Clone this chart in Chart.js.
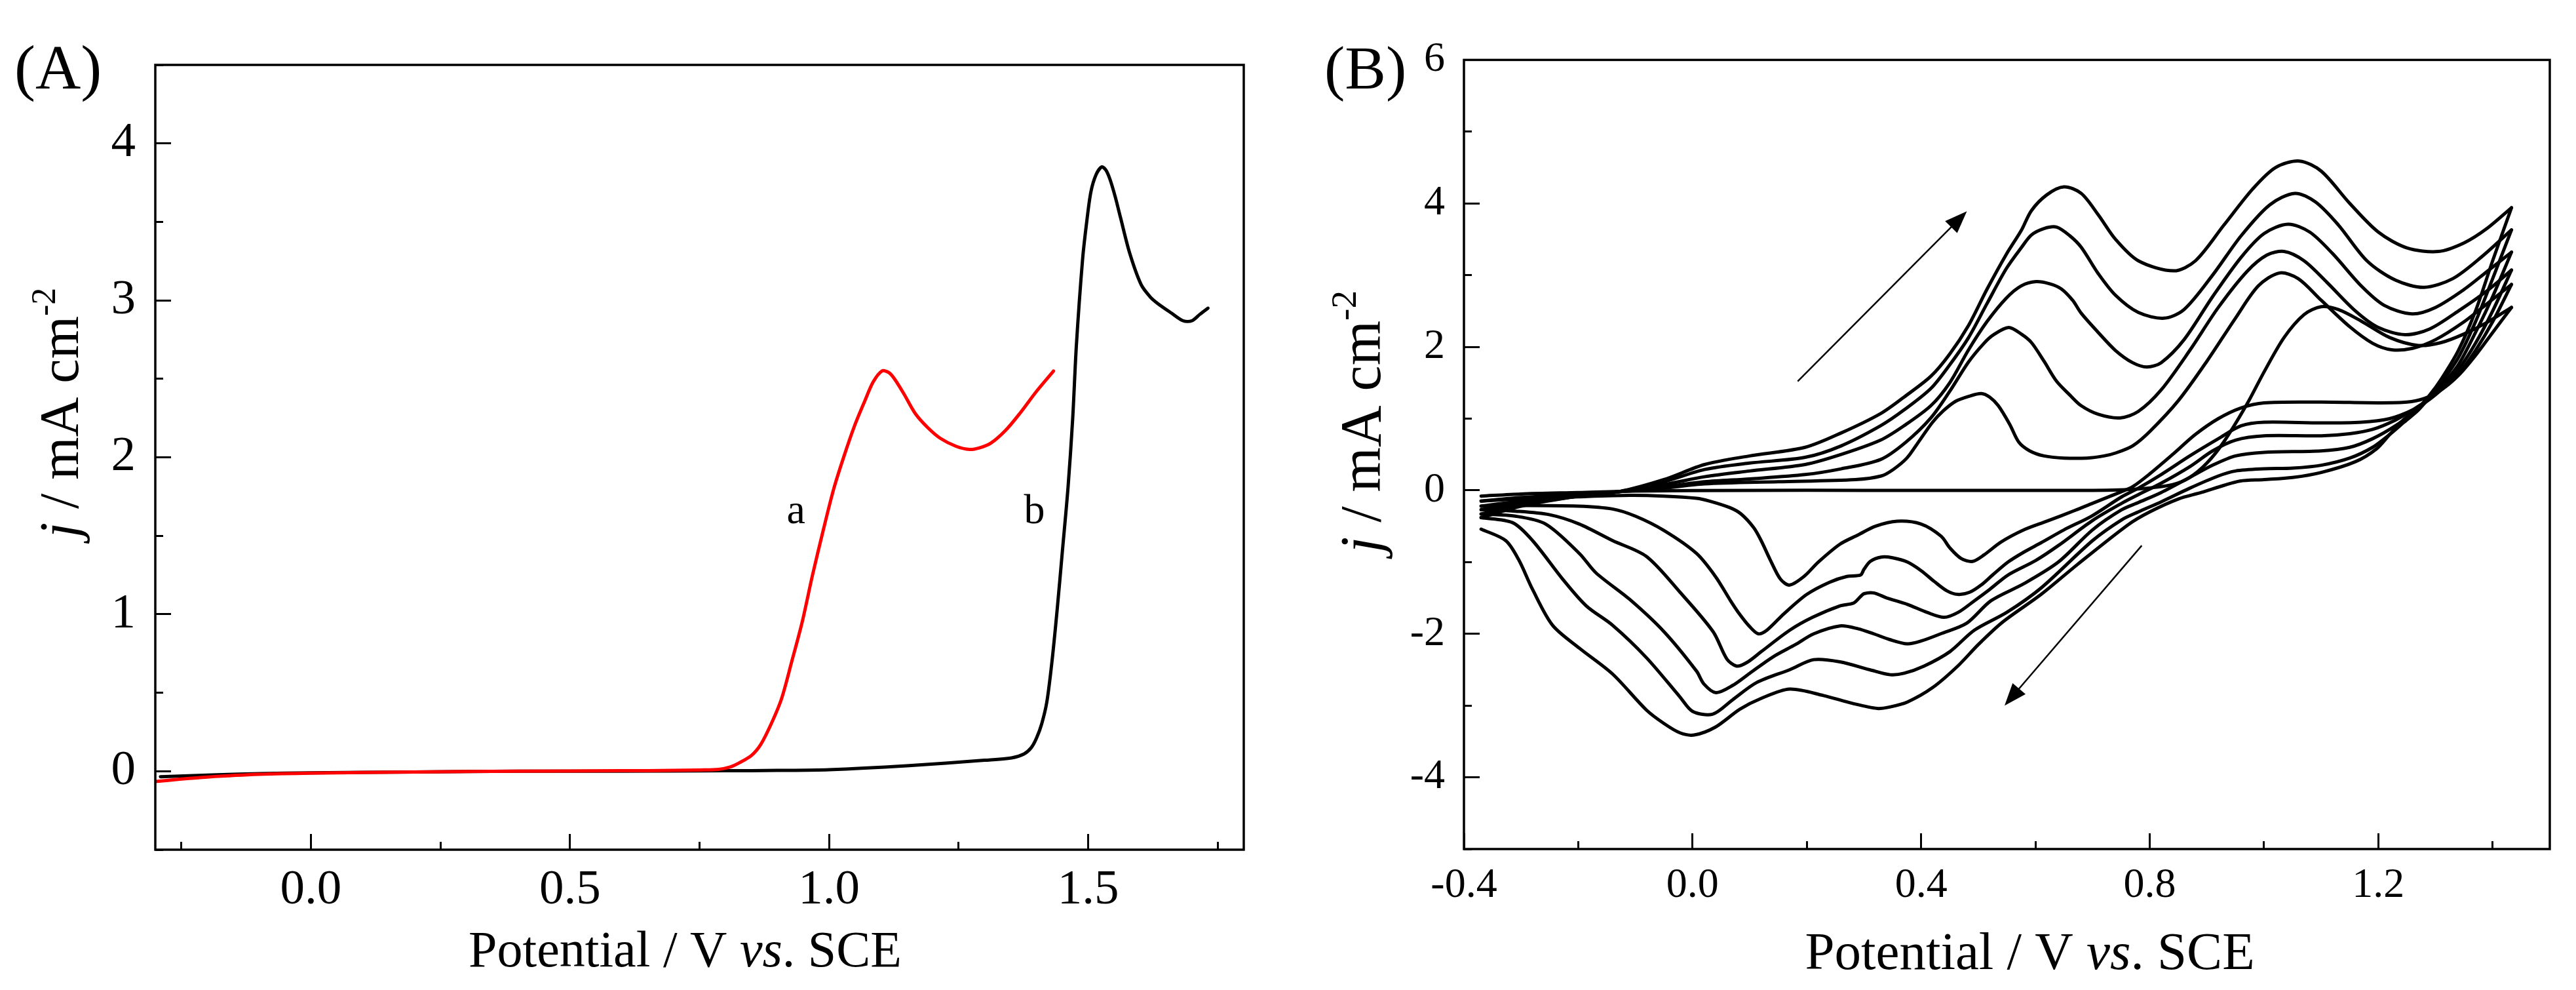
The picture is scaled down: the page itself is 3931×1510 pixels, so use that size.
<!DOCTYPE html>
<html>
<head>
<meta charset="utf-8">
<script src="https://cdn.jsdelivr.net/npm/chart.js@4.4.1/dist/chart.umd.min.js"></script>
<style>
  html, body { margin: 0; padding: 0; background: #fff; overflow: hidden; }
  #wrap { position: relative; width: 3931px; height: 1510px; background: #fff; }
  canvas { position: absolute; top: 0; }
  #chartA { left: 0; }
  #chartB { left: 1960px; }
</style>
</head>
<body>
<div id="wrap">
  <canvas id="chartA" width="1960" height="1510"></canvas>
  <canvas id="chartB" width="1971" height="1510"></canvas>
</div>
<script>
// ---- panel A: linear sweeps (V vs SCE, mA cm-2) ----
const curveA_V = [-0.3, -0.25, -0.2, -0.1, 0.0, 0.2, 0.4, 0.6, 0.7, 0.75, 0.787, 0.81, 0.827, 0.85, 0.868, 0.888, 0.908, 0.928, 0.948, 0.968, 0.989, 1.009, 1.029, 1.049, 1.069, 1.085, 1.102, 1.115, 1.126, 1.145, 1.166, 1.19, 1.215, 1.245, 1.271, 1.29, 1.312, 1.34, 1.368, 1.40, 1.433];
const curveA_J = [-0.066, -0.05, -0.037, -0.02, -0.012, -0.005, 0.0, 0.003, 0.005, 0.008, 0.012, 0.028, 0.054, 0.1, 0.17, 0.3, 0.46, 0.7, 0.95, 1.25, 1.54, 1.8, 2.01, 2.2, 2.36, 2.48, 2.55, 2.54, 2.5, 2.4, 2.28, 2.19, 2.12, 2.07, 2.05, 2.06, 2.09, 2.17, 2.28, 2.42, 2.55];
const curveB_V = [-0.29, -0.2, -0.1, 0.0, 0.2, 0.4, 0.6, 0.8, 0.9, 1.0, 1.15, 1.3, 1.352, 1.376, 1.39, 1.40, 1.41, 1.42, 1.43, 1.44, 1.45, 1.461, 1.47, 1.477, 1.489, 1.497, 1.505, 1.515, 1.526, 1.534, 1.542, 1.552, 1.562, 1.58, 1.602, 1.62, 1.634, 1.66, 1.683, 1.70, 1.715, 1.731];
const curveB_J = [-0.035, -0.025, -0.015, -0.01, -0.005, 0.0, 0.0, 0.003, 0.005, 0.01, 0.035, 0.07, 0.085, 0.11, 0.15, 0.21, 0.3, 0.44, 0.7, 1.03, 1.4, 1.81, 2.25, 2.71, 3.26, 3.5, 3.69, 3.8, 3.85, 3.83, 3.77, 3.66, 3.53, 3.3, 3.1, 3.02, 2.98, 2.92, 2.87, 2.87, 2.91, 2.95];

// ---- panel B: six CV cycles, forward (fwd) and reverse (rev) scans ----
const fwd1V = [-0.37, -0.3, -0.2, -0.1, 0.1, 0.3, 0.5, 0.7, 0.78, 0.84, 0.87, 0.9, 0.93, 0.97, 1.0, 1.035, 1.07, 1.1, 1.13, 1.17, 1.22, 1.27, 1.31, 1.35, 1.39, 1.433];
const fwd1J = [-0.08, -0.05, -0.03, -0.01, 0.0, 0.0, 0.0, 0.0, 0.02, 0.08, 0.18, 0.38, 0.68, 1.2, 1.65, 2.13, 2.45, 2.56, 2.52, 2.36, 2.13, 2.02, 2.06, 2.18, 2.34, 2.55];
const rev1V = [1.433, 1.4, 1.37, 1.34, 1.31, 1.28, 1.25, 1.2, 1.1, 1.0, 0.96, 0.92, 0.88, 0.84, 0.8, 0.77, 0.75, 0.7, 0.669, 0.62, 0.58, 0.54, 0.51, 0.49, 0.47, 0.45, 0.435, 0.4, 0.358, 0.32, 0.29, 0.258, 0.22, 0.195, 0.17, 0.154, 0.136, 0.12, 0.107, 0.085, 0.065, 0.03, 0.007, -0.05, -0.11, -0.2, -0.3, -0.37];
const rev1J = [2.55, 2.2, 1.88, 1.6, 1.4, 1.28, 1.23, 1.22, 1.23, 1.22, 1.15, 1.0, 0.78, 0.5, 0.23, 0.05, -0.02, -0.18, -0.28, -0.43, -0.55, -0.72, -0.9, -0.99, -0.95, -0.8, -0.64, -0.47, -0.43, -0.5, -0.62, -0.75, -1.0, -1.2, -1.32, -1.24, -0.97, -0.7, -0.52, -0.33, -0.24, -0.15, -0.11, -0.08, -0.07, -0.09, -0.12, -0.15];

const fwd2V = [-0.37, -0.3, -0.2, -0.13, -0.05, 0.021, 0.15, 0.285, 0.33, 0.351, 0.375, 0.395, 0.42, 0.439, 0.46, 0.483, 0.505, 0.52, 0.535, 0.555, 0.571, 0.59, 0.615, 0.65, 0.69, 0.72, 0.74, 0.77, 0.8, 0.85, 0.9, 0.95, 0.99, 1.027, 1.06, 1.1, 1.15, 1.19, 1.223, 1.26, 1.3, 1.35, 1.39, 1.433];
const fwd2J = [-0.15, -0.1, -0.05, -0.02, 0.03, 0.09, 0.12, 0.15, 0.2, 0.29, 0.45, 0.67, 0.95, 1.11, 1.24, 1.31, 1.35, 1.3, 1.18, 0.92, 0.67, 0.55, 0.48, 0.45, 0.45, 0.48, 0.52, 0.62, 0.82, 1.25, 1.8, 2.4, 2.85, 3.03, 2.95, 2.65, 2.28, 2.05, 1.96, 1.98, 2.1, 2.35, 2.6, 2.87];
const rev2V = [1.433, 1.4, 1.37, 1.34, 1.31, 1.29, 1.26, 1.22, 1.17, 1.1, 1.0, 0.96, 0.92, 0.87, 0.82, 0.78, 0.751, 0.698, 0.65, 0.61, 0.58, 0.552, 0.525, 0.505, 0.485, 0.464, 0.445, 0.423, 0.4, 0.376, 0.35, 0.33, 0.311, 0.3, 0.294, 0.27, 0.24, 0.2, 0.16, 0.13, 0.115, 0.1, 0.08, 0.065, 0.04, 0.007, -0.05, -0.1, -0.14, -0.2, -0.3, -0.37];
const rev2J = [2.87, 2.35, 1.95, 1.62, 1.4, 1.27, 1.12, 1.0, 0.95, 0.94, 0.95, 0.9, 0.72, 0.48, 0.22, 0.03, -0.09, -0.36, -0.55, -0.73, -0.86, -1.0, -1.18, -1.32, -1.42, -1.45, -1.4, -1.27, -1.12, -1.0, -0.94, -0.93, -0.99, -1.1, -1.18, -1.2, -1.28, -1.45, -1.72, -1.95, -2.0, -1.9, -1.7, -1.52, -1.2, -0.88, -0.56, -0.36, -0.26, -0.22, -0.21, -0.22];

const fwd3V = [-0.37, -0.3, -0.2, -0.13, -0.05, 0.021, 0.1, 0.197, 0.26, 0.329, 0.373, 0.417, 0.45, 0.483, 0.51, 0.527, 0.553, 0.575, 0.593, 0.615, 0.637, 0.66, 0.68, 0.71, 0.748, 0.78, 0.82, 0.87, 0.92, 0.97, 1.005, 1.035, 1.07, 1.11, 1.16, 1.2, 1.247, 1.29, 1.34, 1.39, 1.433];
const fwd3J = [-0.22, -0.15, -0.07, -0.02, 0.05, 0.12, 0.16, 0.22, 0.3, 0.43, 0.67, 1.01, 1.38, 1.79, 2.05, 2.17, 2.27, 2.18, 2.06, 1.8, 1.52, 1.33, 1.18, 1.06, 1.01, 1.1, 1.4, 1.95, 2.55, 3.05, 3.28, 3.33, 3.2, 2.9, 2.5, 2.27, 2.17, 2.25, 2.5, 2.78, 3.07];
const rev3V = [1.433, 1.4, 1.37, 1.34, 1.31, 1.29, 1.26, 1.23, 1.19, 1.15, 1.1, 1.0, 0.95, 0.91, 0.87, 0.82, 0.78, 0.751, 0.7, 0.64, 0.6, 0.552, 0.52, 0.493, 0.465, 0.44, 0.41, 0.376, 0.34, 0.317, 0.3, 0.294, 0.282, 0.258, 0.21, 0.17, 0.12, 0.095, 0.077, 0.06, 0.036, -0.022, -0.081, -0.14, -0.198, -0.25, -0.31, -0.37];
const rev3J = [3.07, 2.5, 2.05, 1.68, 1.42, 1.28, 1.12, 0.98, 0.85, 0.79, 0.76, 0.76, 0.7, 0.55, 0.33, 0.1, -0.06, -0.18, -0.42, -0.77, -0.98, -1.18, -1.38, -1.54, -1.7, -1.77, -1.7, -1.59, -1.5, -1.43, -1.44, -1.48, -1.57, -1.61, -1.77, -1.95, -2.25, -2.4, -2.45, -2.35, -1.97, -1.42, -0.92, -0.7, -0.47, -0.34, -0.29, -0.27];

const fwd4V = [-0.37, -0.3, -0.2, -0.13, -0.05, 0.021, 0.1, 0.197, 0.26, 0.329, 0.37, 0.417, 0.45, 0.483, 0.515, 0.549, 0.575, 0.601, 0.625, 0.645, 0.665, 0.68, 0.71, 0.74, 0.77, 0.795, 0.82, 0.86, 0.91, 0.96, 1.0, 1.042, 1.08, 1.12, 1.17, 1.21, 1.259, 1.3, 1.35, 1.39, 1.433];
const fwd4J = [-0.27, -0.18, -0.08, -0.02, 0.08, 0.19, 0.27, 0.36, 0.5, 0.7, 0.9, 1.18, 1.5, 1.96, 2.35, 2.68, 2.85, 2.91, 2.88, 2.81, 2.65, 2.47, 2.2, 1.95, 1.78, 1.72, 1.78, 2.1, 2.7, 3.25, 3.58, 3.71, 3.6, 3.3, 2.85, 2.58, 2.46, 2.55, 2.8, 3.05, 3.32];
const rev4V = [1.433, 1.4, 1.37, 1.34, 1.31, 1.29, 1.26, 1.23, 1.19, 1.15, 1.1, 1.0, 0.95, 0.91, 0.87, 0.82, 0.78, 0.751, 0.7, 0.64, 0.58, 0.522, 0.48, 0.434, 0.4, 0.376, 0.345, 0.317, 0.29, 0.258, 0.212, 0.18, 0.141, 0.1, 0.07, 0.041, 0.02, 0.007, -0.05, -0.11, -0.169, -0.198, -0.257, -0.31, -0.37];
const rev4J = [3.32, 2.7, 2.2, 1.75, 1.45, 1.28, 1.08, 0.9, 0.72, 0.6, 0.55, 0.53, 0.48, 0.35, 0.18, -0.03, -0.17, -0.27, -0.55, -1.0, -1.3, -1.54, -1.85, -2.0, -2.1, -2.14, -2.08, -2.0, -1.93, -1.89, -2.0, -2.15, -2.32, -2.55, -2.72, -2.82, -2.7, -2.52, -1.97, -1.52, -1.15, -0.88, -0.47, -0.36, -0.33];

const fwd5V = [-0.37, -0.3, -0.2, -0.13, -0.05, 0.021, 0.1, 0.197, 0.26, 0.329, 0.37, 0.417, 0.45, 0.483, 0.515, 0.549, 0.575, 0.593, 0.615, 0.637, 0.66, 0.68, 0.71, 0.74, 0.78, 0.825, 0.86, 0.91, 0.96, 1.01, 1.054, 1.09, 1.13, 1.18, 1.23, 1.28, 1.33, 1.38, 1.433];
const fwd5J = [-0.33, -0.2, -0.08, -0.02, 0.12, 0.29, 0.38, 0.46, 0.62, 0.9, 1.12, 1.42, 1.75, 2.13, 2.6, 3.09, 3.38, 3.56, 3.65, 3.67, 3.55, 3.39, 3.02, 2.72, 2.48, 2.4, 2.52, 3.0, 3.55, 3.98, 4.14, 4.02, 3.7, 3.2, 2.93, 2.83, 2.95, 3.25, 3.63];
const rev5V = [1.433, 1.4, 1.37, 1.34, 1.31, 1.29, 1.27, 1.245, 1.22, 1.19, 1.15, 1.1, 1.05, 1.0, 0.95, 0.92, 0.87, 0.82, 0.78, 0.751, 0.7, 0.61, 0.55, 0.493, 0.45, 0.405, 0.37, 0.346, 0.31, 0.258, 0.212, 0.17, 0.112, 0.07, 0.035, 0.0, -0.022, -0.081, -0.14, -0.186, -0.227, -0.28, -0.315, -0.37];
const rev5J = [3.63, 2.95, 2.35, 1.85, 1.5, 1.3, 1.12, 0.95, 0.78, 0.6, 0.45, 0.35, 0.31, 0.3, 0.27, 0.2, 0.03, -0.16, -0.3, -0.41, -0.7, -1.36, -1.7, -1.95, -2.25, -2.45, -2.55, -2.57, -2.5, -2.39, -2.36, -2.5, -2.68, -2.92, -3.12, -3.08, -2.88, -2.33, -1.88, -1.61, -1.24, -0.7, -0.45, -0.38];

const fwd6V = [-0.37, -0.3, -0.2, -0.13, -0.05, 0.021, 0.1, 0.197, 0.26, 0.329, 0.37, 0.417, 0.45, 0.483, 0.515, 0.549, 0.575, 0.593, 0.62, 0.65, 0.68, 0.71, 0.74, 0.78, 0.842, 0.88, 0.93, 0.98, 1.02, 1.062, 1.1, 1.15, 1.2, 1.25, 1.305, 1.35, 1.39, 1.433];
const fwd6J = [-0.38, -0.22, -0.08, -0.02, 0.15, 0.36, 0.48, 0.6, 0.8, 1.07, 1.3, 1.59, 1.9, 2.3, 2.8, 3.29, 3.62, 3.9, 4.12, 4.23, 4.14, 3.84, 3.5, 3.2, 3.06, 3.2, 3.7, 4.2, 4.5, 4.59, 4.45, 4.0, 3.6, 3.38, 3.33, 3.45, 3.65, 3.94];
const rev6V = [1.433, 1.4, 1.37, 1.34, 1.31, 1.29, 1.27, 1.245, 1.22, 1.197, 1.16, 1.1, 1.05, 1.0, 0.958, 0.93, 0.89, 0.85, 0.8, 0.762, 0.674, 0.61, 0.542, 0.5, 0.464, 0.42, 0.376, 0.345, 0.323, 0.28, 0.229, 0.17, 0.12, 0.083, 0.04, 0.003, -0.022, -0.05, -0.081, -0.14, -0.198, -0.245, -0.28, -0.304, -0.327, -0.37];
const rev6J = [3.94, 3.2, 2.5, 1.95, 1.55, 1.33, 1.15, 0.99, 0.78, 0.58, 0.4, 0.25, 0.18, 0.15, 0.13, 0.07, -0.03, -0.12, -0.3, -0.48, -1.03, -1.45, -1.84, -2.15, -2.45, -2.75, -2.95, -3.02, -3.04, -2.97, -2.86, -2.77, -2.9, -3.05, -3.3, -3.41, -3.38, -3.25, -3.06, -2.56, -2.2, -1.88, -1.38, -0.97, -0.7, -0.54];

// axis ranges and tick steps [major, minor]
const rangeA_V = [-0.3, 1.8], rangeA_J = [-0.5, 4.5];
const stepA_V = [0.5, 0.25], stepA_J = [1, 0.5];
const rangeB_V = [-0.4, 1.5], rangeB_J = [-5, 6];
const stepB_V = [0.4, 0.2], stepB_J = [2, 1];

// curve labels in panel A and scan-direction arrows in panel B (data coords)
const labelsA = [{t: 'a', v: 0.936, j: 1.58}, {t: 'b', v: 1.396, j: 1.58}];
const arrowsB = [[0.184, 1.52, 0.48, 3.89], [0.786, -0.77, 0.546, -3.0]];

Chart.defaults.font.family = '"Liberation Serif", "Times New Roman", serif';
Chart.defaults.color = '#000';

const FONT = '"Liberation Serif", "Times New Roman", serif';
const pts = (xs, ys) => xs.map((x, i) => ({x: x, y: ys[i]}));

// tick values at whole multiples of step inside [min, max]
function stepTicks(min, max, step) {
  const out = [];
  for (let k = Math.ceil(min / step - 1e-9); k * step <= max + 1e-9; k++) {
    out.push({value: Math.round(k * step * 1e6) / 1e6});
  }
  return out;
}

function fontStr(p, size) {
  return (p.italic ? 'italic ' : '') + Math.round(size * (p.scale || 1)) + 'px ' + FONT;
}

// draw mixed-style text centred on (x, y) baseline, optionally rotated
function richText(ctx, parts, x, y, size, rotate) {
  ctx.save();
  ctx.translate(x, y);
  if (rotate) ctx.rotate(-Math.PI / 2);
  ctx.fillStyle = '#000';
  ctx.textBaseline = 'alphabetic';
  ctx.textAlign = 'left';
  const w = parts.map(p => { ctx.font = fontStr(p, size); return ctx.measureText(p.t).width; });
  let cx = -w.reduce((a, b) => a + b, 0) / 2;
  parts.forEach((p, i) => {
    ctx.font = fontStr(p, size);
    ctx.fillText(p.t, cx, -(p.rise || 0) * size);
    cx += w[i];
  });
  ctx.restore();
}

const xTitle = [{t: 'Potential / V '}, {t: 'vs', italic: true}, {t: '. SCE'}];
const yTitle = [{t: 'j', italic: true}, {t: ' / mA cm'}, {t: '-2', scale: 0.62, rise: 0.42}];

function axisPair(axis, range, steps, tickSize, pad, fmt, fitSize) {
  const isX = axis === 'x';
  const major = {
    type: 'linear', axis: axis, position: isX ? 'bottom' : 'left', weight: 1,
    min: range[0], max: range[1],
    afterBuildTicks: s => { s.ticks = stepTicks(range[0], range[1], steps[0]); },
    ticks: {
      autoSkip: false, maxRotation: 0,
      padding: pad, font: {size: tickSize}, color: '#000', callback: fmt
    },
    grid: {display: true, drawOnChartArea: false, drawTicks: true, tickLength: -24, tickWidth: 3, tickColor: '#000'},
    border: {display: false},
    afterFit: s => { if (isX) s.height = fitSize; else s.width = fitSize; }
  };
  const minor = {
    type: 'linear', axis: axis, position: isX ? 'bottom' : 'left', weight: 0,
    min: range[0], max: range[1],
    afterBuildTicks: s => { s.ticks = stepTicks(range[0], range[1], steps[1]); },
    ticks: {display: false, autoSkip: false},
    grid: {display: true, drawOnChartArea: false, drawTicks: true, tickLength: -12, tickWidth: 3, tickColor: '#000'},
    border: {display: false},
    afterFit: s => { if (isX) s.height = 0; else s.width = 0; }
  };
  return [major, minor];
}

function frameAndText(id, draw) {
  return {
    id: id,
    afterDraw(chart) {
      const {ctx, chartArea: a} = chart;
      ctx.save();
      ctx.strokeStyle = '#000';
      ctx.lineWidth = 3.5;
      ctx.strokeRect(a.left, a.top, a.right - a.left, a.bottom - a.top);
      ctx.restore();
      draw(chart, ctx, a);
    }
  };
}

const lineStyle = {borderWidth: 5, pointRadius: 0, tension: 0.3, fill: false, borderJoinStyle: 'round', borderCapStyle: 'round', xAxisID: 'x', yAxisID: 'y'};

// ---------- chart A ----------
const [axA, axAm] = axisPair('x', rangeA_V, stepA_V, 75, 41.5, v => v.toFixed(1), 214);
const [ayA, ayAm] = axisPair('y', rangeA_J, stepA_J, 75, 54, v => String(v), 237);

new Chart(document.getElementById('chartA'), {
  type: 'line',
  data: {
    datasets: [
      Object.assign({label: 'a', data: pts(curveA_V, curveA_J), borderColor: '#ff0000'}, lineStyle),
      Object.assign({label: 'b', data: pts(curveB_V, curveB_J), borderColor: '#000000'}, lineStyle)
    ]
  },
  options: {
    responsive: false, devicePixelRatio: 1, animation: false,
    layout: {padding: {top: 60, right: 62, left: 0, bottom: 0}},
    plugins: {legend: {display: false}, tooltip: {enabled: false}},
    scales: {x: axA, xMinor: axAm, y: ayA, yMinor: ayAm}
  },
  plugins: [frameAndText('textA', (chart, ctx, a) => {
    const sx = chart.scales.x, sy = chart.scales.y;
    ctx.save();
    ctx.fillStyle = '#000';
    ctx.font = '96px ' + FONT;
    ctx.textAlign = 'left';
    ctx.fillText('(A)', 22, 135);
    ctx.font = '64px ' + FONT;
    ctx.textAlign = 'center';
    labelsA.forEach(l => ctx.fillText(l.t, sx.getPixelForValue(l.v), sy.getPixelForValue(l.j)));
    ctx.restore();
    richText(ctx, xTitle, (a.left + a.right) / 2 - 22, 1474, 78, false);
    richText(ctx, yTitle, a.left - 118, (a.top + a.bottom) / 2 - 68, 84, true);
  })]
});

// ---------- chart B ----------
const [axB, axBm] = axisPair('x', rangeB_V, stepB_V, 64, 41.5, v => v.toFixed(1), 215);
const [ayB, ayBm] = axisPair('y', rangeB_J, stepB_J, 64, 53, v => String(v), 274);

const cyclesB = [
  [fwd1V, fwd1J, rev1V, rev1J], [fwd2V, fwd2J, rev2V, rev2J], [fwd3V, fwd3J, rev3V, rev3J],
  [fwd4V, fwd4J, rev4V, rev4J], [fwd5V, fwd5J, rev5V, rev5J], [fwd6V, fwd6J, rev6V, rev6J]
];
const dsB = [];
cyclesB.forEach((c, i) => {
  dsB.push(Object.assign({label: 'cycle ' + (i + 1) + ' fwd', data: pts(c[0], c[1]), borderColor: '#000'}, lineStyle));
  dsB.push(Object.assign({label: 'cycle ' + (i + 1) + ' rev', data: pts(c[2], c[3]), borderColor: '#000'}, lineStyle));
});

function drawArrow(ctx, x1, y1, x2, y2) {
  const ang = Math.atan2(y2 - y1, x2 - x1), hl = 34, hw = 13;
  ctx.save();
  ctx.strokeStyle = '#000';
  ctx.fillStyle = '#000';
  ctx.lineWidth = 2.5;
  ctx.beginPath();
  ctx.moveTo(x1, y1);
  ctx.lineTo(x2 - hl * 0.8 * Math.cos(ang), y2 - hl * 0.8 * Math.sin(ang));
  ctx.stroke();
  ctx.translate(x2, y2);
  ctx.rotate(ang);
  ctx.beginPath();
  ctx.moveTo(0, 0);
  ctx.lineTo(-hl, -hw);
  ctx.lineTo(-hl, hw);
  ctx.closePath();
  ctx.fill();
  ctx.restore();
}

new Chart(document.getElementById('chartB'), {
  type: 'line',
  data: {datasets: dsB},
  options: {
    responsive: false, devicePixelRatio: 1, animation: false,
    layout: {padding: {top: 60, right: 40, left: 0, bottom: 0}},
    plugins: {legend: {display: false}, tooltip: {enabled: false}},
    scales: {x: axB, xMinor: axBm, y: ayB, yMinor: ayBm}
  },
  plugins: [frameAndText('textB', (chart, ctx, a) => {
    const sx = chart.scales.x, sy = chart.scales.y;
    arrowsB.forEach(r => drawArrow(ctx, sx.getPixelForValue(r[0]), sy.getPixelForValue(r[1]),
                                        sx.getPixelForValue(r[2]), sy.getPixelForValue(r[3])));
    ctx.save();
    ctx.fillStyle = '#000';
    ctx.font = '94px ' + FONT;
    ctx.textAlign = 'left';
    ctx.fillText('(B)', 61, 135);
    ctx.restore();
    richText(ctx, xTitle, (a.left + a.right) / 2 + 35, 1478, 81, false);
    richText(ctx, yTitle, a.left - 128, (a.top + a.bottom) / 2 - 50, 88, true);
  })]
});
</script>
</body>
</html>
